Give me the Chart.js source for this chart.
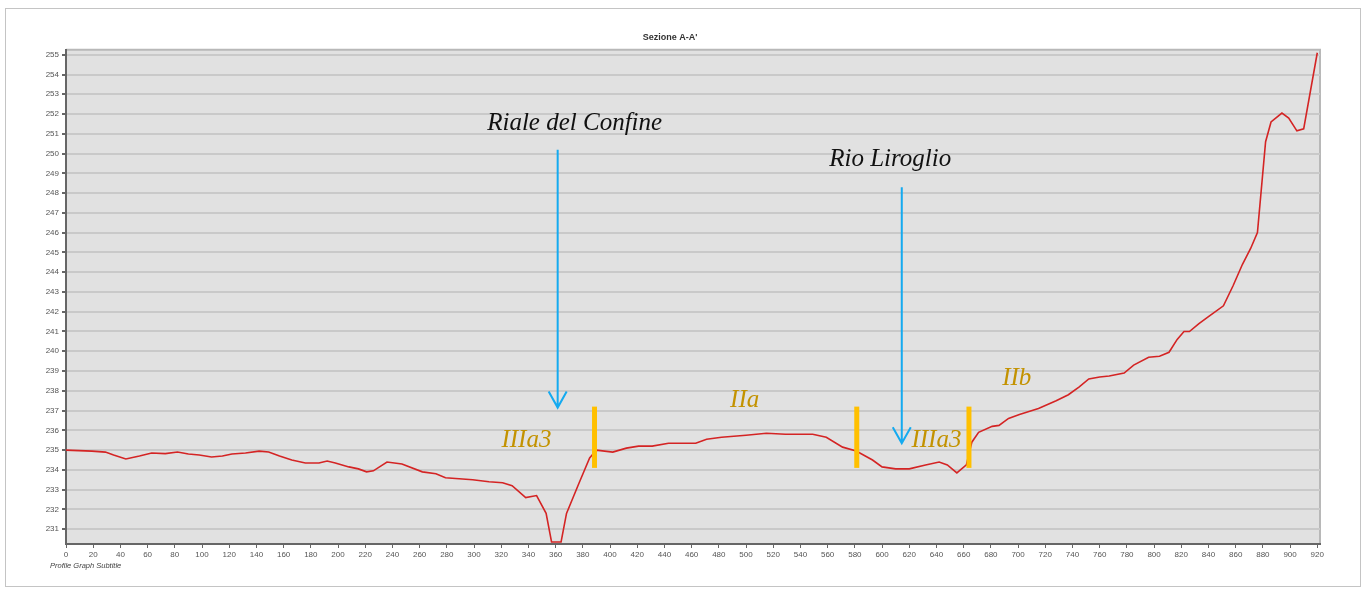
<!DOCTYPE html>
<html>
<head>
<meta charset="utf-8">
<script src="https://cdn.jsdelivr.net/npm/chart.js@4.4.1/dist/chart.umd.min.js"></script>
<style>
  html, body { margin: 0; padding: 0; background: #fff; }
  canvas { display: block; }
</style>
</head>
<body>
<canvas id="profile" width="1363" height="590"></canvas>
<script>
// Sezione A-A' – elevation profile
const distance = [
  0, 19, 29, 35, 44, 54, 63, 73, 82, 90, 98, 107, 115, 122, 132, 142, 149, 157, 166, 176,
  186, 192, 198, 208, 215, 221, 226, 236, 247, 262, 272, 279, 289, 299, 311, 321, 328, 338, 346, 353,
  357, 364, 368, 377, 385, 390, 402, 412, 421, 431, 443, 463, 471, 482, 500, 515, 529, 549, 559, 571,
  581, 593, 600, 610, 620, 632, 642, 648, 655, 662, 666, 671, 681, 686, 693, 701, 715, 728, 737, 745,
  752, 760, 767, 778, 785, 796, 804, 811, 817, 822, 826, 833, 840, 851, 858, 865, 871, 876, 882, 886,
  894, 899, 905, 910, 920
];
const elevation = [
  235.0, 234.95, 234.9, 234.75, 234.55, 234.7, 234.85, 234.82, 234.9, 234.8, 234.75, 234.65, 234.7, 234.8, 234.85, 234.95, 234.9, 234.7, 234.5, 234.35,
  234.35, 234.45, 234.35, 234.15, 234.05, 233.9, 233.95, 234.4, 234.3, 233.9, 233.8, 233.6, 233.55, 233.5, 233.4, 233.35, 233.2, 232.6, 232.7, 231.8,
  230.35, 230.35, 231.8, 233.3, 234.6, 235.0, 234.9, 235.1, 235.2, 235.2, 235.35, 235.35, 235.55, 235.65, 235.75, 235.85, 235.8, 235.8, 235.65, 235.15,
  234.95, 234.5, 234.15, 234.05, 234.05, 234.25, 234.4, 234.25, 233.85, 234.25, 235.4, 235.9, 236.2, 236.25, 236.6, 236.8, 237.1, 237.5, 237.8, 238.2,
  238.6, 238.7, 238.75, 238.9, 239.3, 239.7, 239.75, 239.95, 240.6, 241.0, 241.0, 241.4, 241.75, 242.3, 243.3, 244.4, 245.2, 246.0, 250.6, 251.6,
  252.05, 251.8, 251.15, 251.25, 255.1
];

// tick labels
const xTicks = [];
for (let v = 0; v <= 920; v += 20) xTicks.push(v);
const yTicks = [231, 232, 233, 234, 235, 236, 237, 238, 239, 240, 241, 242, 243,
  244, 245, 246, 247, 248, 249, 250, 251, 252, 253, 254, 255];

// annotations (data coordinates)
const streams = [
  { name: 'Riale del Confine', x: 361.5, top: 250.2, bottom: 237.15, labelX: 374, labelY: 251.55 },
  { name: 'Rio Liroglio',      x: 614.5, top: 248.3, bottom: 235.35, labelX: 606, labelY: 249.7 }
];
const unitBounds = [388.6, 581.4, 663.9];
const boundTop = 237.2, boundBottom = 234.1;
const unitLabels = [
  { text: 'IIIa3', x: 338.5, y: 235.5 },
  { text: 'IIa',   x: 499,   y: 237.5 },
  { text: 'IIIa3', x: 640,   y: 235.5 },
  { text: 'IIb',   x: 699,   y: 238.65 }
];

const decor = {
  id: 'decor',
  beforeDraw(chart) {
    const { ctx, chartArea: a } = chart;
    ctx.save();
    ctx.strokeStyle = '#c4c4c4';
    ctx.lineWidth = 1;
    ctx.strokeRect(5.5, 8.5, 1355, 578);
    ctx.fillStyle = '#e1e1e1';
    ctx.fillRect(a.left, a.top, a.right - a.left, a.bottom - a.top);
    ctx.strokeStyle = '#b8b8b8';
    ctx.lineWidth = 2;
    ctx.beginPath();
    ctx.moveTo(a.left, a.top); ctx.lineTo(a.right, a.top); ctx.lineTo(a.right, a.bottom);
    ctx.stroke();
    ctx.restore();
  },
  afterDatasetsDraw(chart) {
    const { ctx } = chart;
    const sx = chart.scales.x, sy = chart.scales.y;
    ctx.save();
    // orange unit boundaries
    ctx.strokeStyle = '#ffc000';
    ctx.lineWidth = 5;
    unitBounds.forEach(b => {
      const px = sx.getPixelForValue(b);
      ctx.beginPath();
      ctx.moveTo(px, sy.getPixelForValue(boundTop));
      ctx.lineTo(px, sy.getPixelForValue(boundBottom));
      ctx.stroke();
    });
    // blue arrows + stream names
    streams.forEach(s => {
      const px = sx.getPixelForValue(s.x);
      const y0 = sy.getPixelForValue(s.top), y1 = sy.getPixelForValue(s.bottom);
      ctx.strokeStyle = '#14aaf0';
      ctx.lineWidth = 2;
      ctx.beginPath();
      ctx.moveTo(px, y0); ctx.lineTo(px, y1);
      ctx.moveTo(px - 9, y1 - 16); ctx.lineTo(px, y1); ctx.lineTo(px + 9, y1 - 16);
      ctx.stroke();
      ctx.fillStyle = '#111';
      ctx.font = 'italic 25px "Liberation Serif", serif';
      ctx.textAlign = 'center';
      ctx.textBaseline = 'middle';
      ctx.fillText(s.name, sx.getPixelForValue(s.labelX), sy.getPixelForValue(s.labelY));
    });
    // unit labels
    ctx.fillStyle = '#c39200';
    ctx.font = 'italic 25px "Liberation Serif", serif';
    ctx.textAlign = 'center';
    ctx.textBaseline = 'middle';
    unitLabels.forEach(l => ctx.fillText(l.text, sx.getPixelForValue(l.x), sy.getPixelForValue(l.y)));
    // subtitle
    ctx.fillStyle = '#444';
    ctx.font = 'italic 7.5px "Liberation Sans", Arial, sans-serif';
    ctx.textAlign = 'left';
    ctx.fillText('Profile Graph Subtitle', 50, 566);
    ctx.restore();
  }
};

new Chart(document.getElementById('profile'), {
  type: 'line',
  data: {
    datasets: [{
      data: distance.map((d, i) => ({ x: d, y: elevation[i] })),
      borderColor: '#d42424',
      borderWidth: 1.6,
      pointRadius: 0,
      tension: 0,
      fill: false
    }]
  },
  options: {
    responsive: false,
    animation: false,
    layout: { padding: { top: 0, left: 20, right: 43, bottom: 26 } },
    plugins: {
      legend: { display: false },
      tooltip: { enabled: false },
      title: {
        display: true,
        text: "Sezione A-A'",
        color: '#333',
        font: { family: '"Liberation Sans", Arial, sans-serif', size: 9, weight: 'bold' },
        padding: { top: 32, bottom: 7 }
      }
    },
    scales: {
      x: {
        type: 'linear',
        min: 0, max: 922,
        afterBuildTicks: s => { s.ticks = xTicks.map(v => ({ value: v })); },
        afterFit: s => { s.height = 20; },
        ticks: {
          autoSkip: false, maxRotation: 0,
          color: '#555', padding: 2,
          font: { family: '"Liberation Sans", Arial, sans-serif', size: 8 }
        },
        grid: { drawOnChartArea: false, tickLength: 4, tickColor: '#666' },
        border: { color: '#666', width: 2 }
      },
      y: {
        min: 230.25, max: 255.25,
        afterBuildTicks: s => { s.ticks = yTicks.map(v => ({ value: v })); },
        afterFit: s => { s.width = 46; },
        ticks: {
          autoSkip: false,
          color: '#555', padding: 3,
          font: { family: '"Liberation Sans", Arial, sans-serif', size: 8 }
        },
        grid: { color: '#c9c9c9', lineWidth: 2, tickLength: 4, tickColor: '#666' },
        border: { color: '#666', width: 2 }
      }
    }
  },
  plugins: [decor]
});
</script>
</body>
</html>
